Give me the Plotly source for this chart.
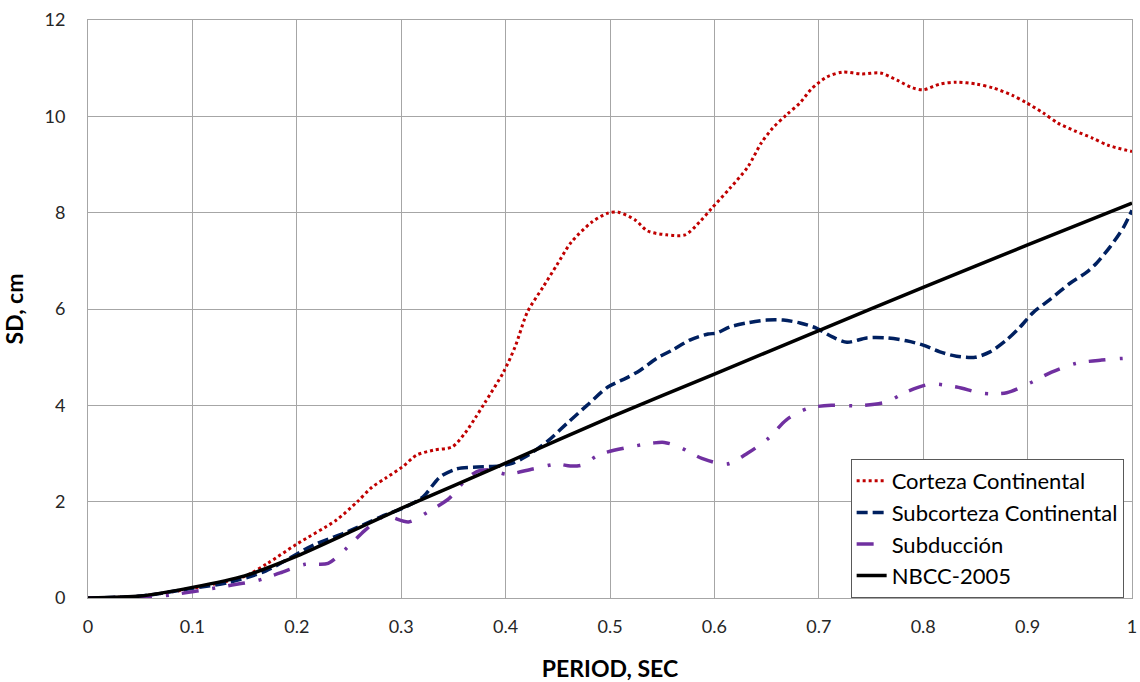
import plotly.graph_objects as go

# Corteza Continental
red_x = [0, 0.05, 0.1, 0.15, 0.172, 0.2, 0.238, 0.258, 0.272, 0.286, 0.301, 0.315, 0.331, 0.349,
         0.361, 0.371, 0.38, 0.398, 0.409, 0.421, 0.436, 0.449, 0.463, 0.483, 0.498, 0.508, 0.524,
         0.536, 0.554, 0.572, 0.586, 0.597, 0.615, 0.632, 0.645, 0.656, 0.669, 0.682, 0.693, 0.708,
         0.723, 0.741, 0.759, 0.775, 0.79, 0.8, 0.816, 0.832, 0.851, 0.867, 0.885, 0.899, 0.915,
         0.929, 0.945, 0.962, 0.977, 1.0]
red_y = [0, 0.04, 0.2, 0.45, 0.72, 1.12, 1.62, 2.0, 2.3, 2.5, 2.72, 2.97, 3.07, 3.14,
         3.42, 3.74, 4.05, 4.69, 5.21, 5.94, 6.46, 6.91, 7.39, 7.81, 7.99, 8.01, 7.85,
         7.62, 7.54, 7.54, 7.81, 8.08, 8.51, 8.95, 9.45, 9.76, 10.03, 10.28, 10.57, 10.82,
         10.92, 10.88, 10.9, 10.75, 10.59, 10.55, 10.67, 10.71, 10.67, 10.59, 10.44, 10.28, 10.07,
         9.86, 9.7, 9.55, 9.4, 9.27]

# Subcorteza Continental
blue_x = [0, 0.05, 0.1, 0.136, 0.17, 0.216, 0.248, 0.28, 0.305, 0.321, 0.337, 0.353, 0.373, 0.395,
          0.407, 0.419, 0.44, 0.459, 0.478, 0.498, 0.516, 0.529, 0.545, 0.56, 0.577, 0.594, 0.602,
          0.615, 0.631, 0.65, 0.666, 0.682, 0.698, 0.713, 0.727, 0.746, 0.765, 0.784, 0.8, 0.816,
          0.832, 0.85, 0.864, 0.88, 0.893, 0.905, 0.921, 0.941, 0.957, 0.966, 0.979, 0.992, 1.0]
blue_y = [0, 0.04, 0.2, 0.33, 0.56, 1.1, 1.37, 1.68, 1.9, 2.1, 2.51, 2.68, 2.72, 2.74,
          2.8, 2.93, 3.25, 3.63, 4.0, 4.38, 4.57, 4.73, 4.98, 5.15, 5.36, 5.48, 5.5,
          5.63, 5.71, 5.77, 5.77, 5.71, 5.6, 5.42, 5.31, 5.4, 5.4, 5.34, 5.25, 5.11,
          5.02, 5.0, 5.11, 5.36, 5.63, 5.92, 6.19, 6.54, 6.77, 6.95, 7.29, 7.7, 8.05]

# Subducción
pur_x = [0, 0.066, 0.114, 0.138, 0.162, 0.184, 0.208, 0.23, 0.246, 0.265, 0.282, 0.29, 0.307, 0.325,
         0.346, 0.36, 0.372, 0.385, 0.401, 0.426, 0.449, 0.462, 0.473, 0.49, 0.518, 0.542, 0.552,
         0.566, 0.588, 0.612, 0.632, 0.652, 0.669, 0.69, 0.712, 0.738, 0.765, 0.784, 0.807, 0.832,
         0.857, 0.88, 0.902, 0.923, 0.946, 0.971, 0.996, 1.0]
pur_y = [0, 0.03, 0.18, 0.27, 0.36, 0.52, 0.7, 0.72, 1.0, 1.4, 1.68, 1.68, 1.58, 1.78,
         2.07, 2.41, 2.62, 2.66, 2.57, 2.68, 2.78, 2.74, 2.76, 2.98, 3.13, 3.22, 3.23,
         3.14, 2.9, 2.78, 3.01, 3.32, 3.7, 3.94, 4.0, 3.99, 4.07, 4.28, 4.44, 4.38,
         4.25, 4.26, 4.46, 4.69, 4.87, 4.94, 4.98, 4.98]

# NBCC-2005
nb_x = [0, 0.05, 0.1, 0.15, 0.2, 0.25, 0.3, 0.35, 0.4, 0.5, 0.6, 0.7, 0.8, 0.9, 1.0]
nb_y = [0, 0.04, 0.22, 0.46, 0.87, 1.36, 1.86, 2.33, 2.8, 3.75, 4.65, 5.55, 6.45, 7.33, 8.2]

FONT = "Lato"

fig = go.Figure()
fig.add_trace(go.Scatter(x=red_x, y=red_y, mode="lines", name="Corteza Continental",
                         line=dict(color="#C00000", width=3, dash="3px,3px", shape="spline", smoothing=0.8)))
fig.add_trace(go.Scatter(x=blue_x, y=blue_y, mode="lines", name="Subcorteza Continental",
                         line=dict(color="#002060", width=3.5, dash="11px,5px", shape="spline", smoothing=0.8)))
fig.add_trace(go.Scatter(x=pur_x, y=pur_y, mode="lines", name="Subducción",
                         line=dict(color="#7030A0", width=3.5, dash="17px,14px,3px,13px", shape="spline", smoothing=0.8)))
fig.add_trace(go.Scatter(x=nb_x, y=nb_y, mode="lines", name="NBCC-2005",
                         line=dict(color="#000000", width=3.5, shape="spline", smoothing=0.6)))

fig.update_layout(
    width=1140, height=682,
    margin=dict(l=88, r=8, t=20, b=84),
    paper_bgcolor="white", plot_bgcolor="white",
    font=dict(family=FONT, size=18, color="#262626"),
    showlegend=True,
    legend=dict(x=0.992, y=0, xanchor="right", yanchor="bottom",
                bgcolor="white", bordercolor="#595959", borderwidth=1,
                font=dict(family=FONT, size=22, color="#000000"),
                tracegroupgap=0),
    xaxis=dict(range=[0, 1], dtick=0.1, tick0=0, showgrid=True, gridcolor="#A6A6A6", gridwidth=1,
               showline=True, linecolor="#A6A6A6", linewidth=1, mirror=True, zeroline=False,
               ticks="", ticklabelstandoff=12, automargin=False,
               title=dict(text="<b>PERIOD, SEC</b>", font=dict(family=FONT, size=23, color="#000000"), standoff=25)),
    yaxis=dict(range=[0, 12], dtick=2, tick0=0, showgrid=True, gridcolor="#A6A6A6", gridwidth=1,
               showline=True, linecolor="#A6A6A6", linewidth=1, mirror=True, zeroline=False,
               ticks="", ticklabelstandoff=18, automargin=False,
               title=dict(text="<b>SD, cm</b>", font=dict(family=FONT, size=23, color="#000000"), standoff=14)),
)

fig.write_html("out.html")
